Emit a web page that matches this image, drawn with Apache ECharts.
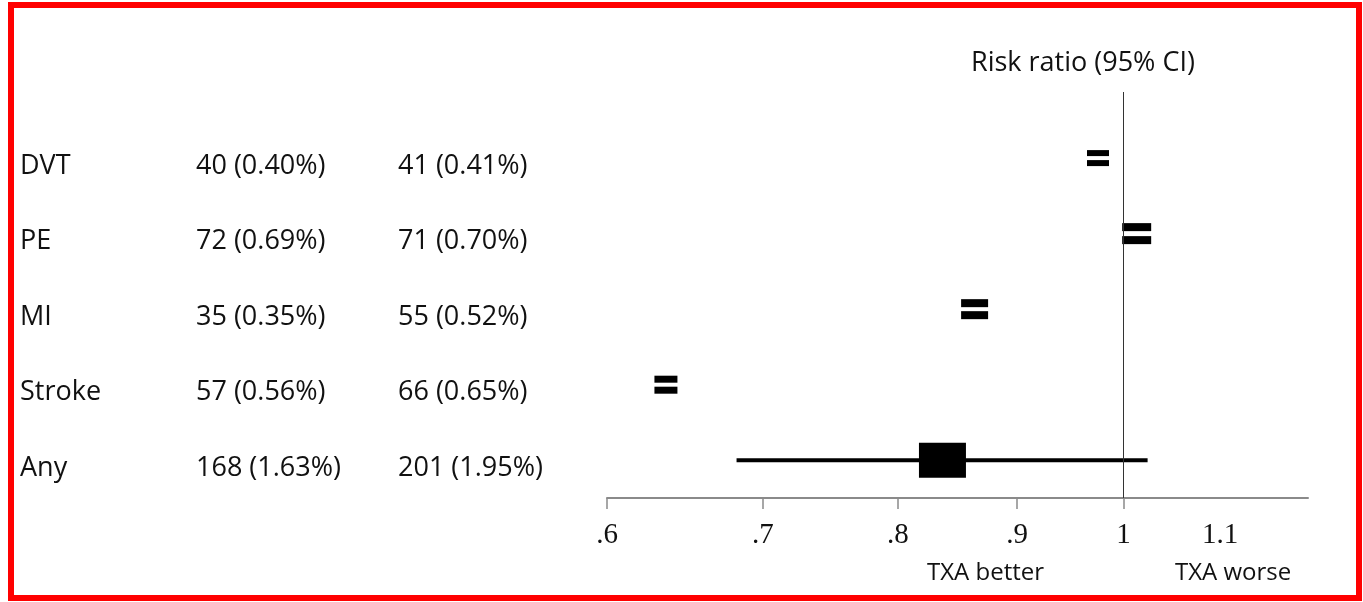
<!DOCTYPE html>
<html>
<head>
<meta charset="utf-8">
<title>Risk ratio forest plot</title>
<script src="https://cdn.jsdelivr.net/npm/echarts@6/dist/echarts.min.js"></script>
<style>
  html, body { margin: 0; padding: 0; background: #fff; }
  #main { width: 1363px; height: 602px; }
</style>
</head>
<body>
<div id="main"></div>
<script>
// rows, top to bottom
var outcomes = ["DVT", "PE", "MI", "Stroke", "Any"];
var txaCounts = ["40 (0.40%)", "72 (0.69%)", "35 (0.35%)", "57 (0.56%)", "168 (1.63%)"];
var ctrlCounts = ["41 (0.41%)", "71 (0.70%)", "55 (0.52%)", "66 (0.65%)", "201 (1.95%)"];
// risk ratio, CI only drawn for "Any"
var riskRatio = [0.975, 1.013, 0.863, 0.636, 0.836];
var ciLow = [null, null, null, null, 0.682];
var ciHigh = [null, null, null, null, 1.024];

var tickValues = [0.6, 0.7, 0.8, 0.9, 1];
var tickLabels = [".6", ".7", ".8", ".9", "1", "1.1"];
var labelValues = [0.6, 0.7, 0.8, 0.9, 1, 1.1];

// marker look: [width, bar height, gap] for the "=" marks, box for the pooled one
var markStyle = [
  { w: 22, h: 6, gap: 4 },
  { w: 29, h: 8, gap: 5 },
  { w: 27, h: 8, gap: 4 },
  { w: 23, h: 7, gap: 4 },
  { box: true, w: 47, h: 35 }
];

var ln = Math.log;
var chart = echarts.init(document.getElementById("main"));
var sans = "'Open Sans', 'Noto Sans', sans-serif";

var points = riskRatio.map(function (r, i) { return [ln(r), i]; });

function labelFor(v, vals, texts) {
  var best = 0;
  vals.forEach(function (x, i) {
    if (Math.abs(ln(x) - v) < Math.abs(ln(vals[best]) - v)) best = i;
  });
  return texts[best];
}

chart.setOption({
  animation: false,
  title: {
    text: "Risk ratio (95% CI)",
    left: 971,
    top: 47,
    padding: 0,
    textStyle: { fontFamily: sans, fontSize: 27, fontWeight: "normal", color: "#111", lineHeight: 32 }
  },
  graphic: [
    {
      type: "rect",
      shape: { x: 11, y: 5, width: 1348, height: 593 },
      style: { fill: "none", stroke: "#ff0000", lineWidth: 6 },
      silent: true
    },
    {
      type: "text", left: 927, top: 561,
      style: { text: "TXA better", font: "24px " + sans, fill: "#111" }
    },
    {
      type: "text", left: 1175, top: 561,
      style: { text: "TXA worse", font: "24px " + sans, fill: "#111" }
    }
  ],
  grid: { left: 607, top: 92, width: 701, height: 406, containLabel: false },
  xAxis: {
    type: "value",
    min: ln(0.6),
    max: ln(1.2),
    axisLine: { show: true, onZero: false, lineStyle: { color: "#8a8a8a", width: 2 } },
    axisTick: {
      show: true,
      length: 11,
      customValues: tickValues.map(ln),
      lineStyle: { color: "#8a8a8a", width: 1.5 }
    },
    axisLabel: {
      customValues: labelValues.map(ln),
      margin: 23,
      fontFamily: "'Liberation Serif', 'DejaVu Serif', serif",
      fontSize: 29,
      color: "#111",
      formatter: function (v) { return labelFor(v, labelValues, tickLabels); }
    },
    splitLine: { show: false }
  },
  yAxis: {
    type: "value",
    inverse: true,
    min: -0.875,
    max: 4.5,
    axisLine: { show: false },
    axisTick: { show: false },
    splitLine: { show: false },
    axisLabel: {
      customValues: [0, 1, 2, 3, 4],
      align: "left",
      margin: 587,
      padding: [16, 0, 0, 0],
      formatter: function (v) {
        var i = Math.round(v);
        return "{a|" + outcomes[i] + "}{b|" + txaCounts[i] + "}{c|" + ctrlCounts[i] + "}";
      },
      rich: {
        a: { width: 176, fontFamily: sans, fontSize: 27, color: "#111" },
        b: { width: 202, fontFamily: sans, fontSize: 27, color: "#111" },
        c: { fontFamily: sans, fontSize: 27, color: "#111" }
      }
    }
  },
  series: [
    {
      type: "custom",
      clip: false,
      encode: { x: 0, y: 1 },
      data: points,
      renderItem: function (params, api) {
        var i = params.dataIndex;
        var st = markStyle[i];
        var c = api.coord([api.value(0), api.value(1)]);
        var kids = [];
        if (ciLow[i] != null) {
          var a = api.coord([ln(ciLow[i]), api.value(1)]);
          var b = api.coord([ln(ciHigh[i]), api.value(1)]);
          kids.push({
            type: "line",
            shape: { x1: a[0], y1: a[1], x2: b[0], y2: b[1] },
            style: { stroke: "#000", lineWidth: 4 }
          });
        }
        if (st.box) {
          kids.push({
            type: "rect",
            shape: { x: c[0] - st.w / 2, y: c[1] - st.h / 2, width: st.w, height: st.h },
            style: { fill: "#000" }
          });
        } else {
          var half = st.gap / 2;
          kids.push({
            type: "rect",
            shape: { x: c[0] - st.w / 2, y: c[1] - half - st.h, width: st.w, height: st.h },
            style: { fill: "#000" }
          });
          kids.push({
            type: "rect",
            shape: { x: c[0] - st.w / 2, y: c[1] + half, width: st.w, height: st.h },
            style: { fill: "#000" }
          });
        }
        return { type: "group", children: kids };
      },
      markLine: {
        silent: true,
        symbol: "none",
        label: { show: false },
        lineStyle: { color: "#333", width: 1, type: "solid" },
        data: [{ xAxis: 0 }]
      },
      z: 3
    }
  ]
});
</script>
</body>
</html>
